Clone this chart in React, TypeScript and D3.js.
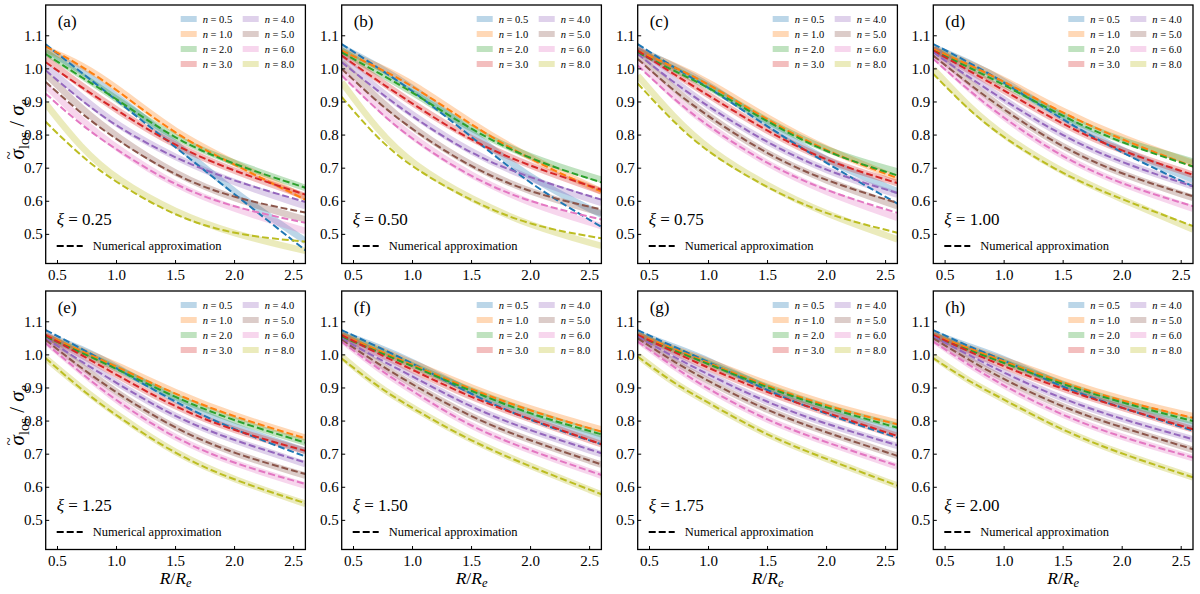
import React from 'react';
import * as d3 from 'd3';

// ---------- data ----------
const xGrid = [0.4, 0.7, 1.0, 1.5, 2.0, 2.6];
const nValues = ['0.5', '1.0', '2.0', '3.0', '4.0', '5.0', '6.0', '8.0'];
const seriesColors = ['#1f77b4', '#ff7f0e', '#2ca02c', '#d62728', '#9467bd', '#8c564b', '#e377c2', '#bcbd22'];
const panelLetters = ['a', 'b', 'c', 'd', 'e', 'f', 'g', 'h'];
const xiLabels = ['0.25', '0.50', '0.75', '1.00', '1.25', '1.50', '1.75', '2.00'];
const xTicks = [0.5, 1.0, 1.5, 2.0, 2.5];
const yTicks = [0.5, 0.6, 0.7, 0.8, 0.9, 1.0, 1.1];

// numerical approximation (dashed) per panel, series order = nValues
const approxA = [
  [1.074, 0.99, 0.905, 0.763, 0.621, 0.452],
  [1.068, 1.01, 0.938, 0.8, 0.71, 0.605],
  [1.045, 0.975, 0.91, 0.785, 0.71, 0.641],
  [1.02, 0.945, 0.875, 0.765, 0.69, 0.62],
  [0.995, 0.905, 0.825, 0.728, 0.66, 0.598],
  [0.96, 0.865, 0.785, 0.675, 0.608, 0.566],
  [0.925, 0.83, 0.755, 0.645, 0.58, 0.535],
  [0.84, 0.735, 0.655, 0.553, 0.498, 0.478],
];
const bandA = [
  [1.06, 0.995, 0.92, 0.775, 0.625, 0.48],
  [1.06, 1.015, 0.945, 0.805, 0.715, 0.61],
  [1.05, 0.98, 0.91, 0.785, 0.715, 0.64],
  [1.03, 0.95, 0.875, 0.765, 0.69, 0.615],
  [1.01, 0.915, 0.83, 0.73, 0.655, 0.585],
  [0.985, 0.88, 0.795, 0.68, 0.605, 0.545],
  [0.95, 0.845, 0.76, 0.645, 0.575, 0.51],
  [0.895, 0.76, 0.665, 0.565, 0.5, 0.45],
];
const approxB = [
  [1.075, 1.005, 0.935, 0.795, 0.649, 0.523],
  [1.055, 1.005, 0.95, 0.83, 0.724, 0.629],
  [1.05, 0.99, 0.93, 0.815, 0.725, 0.657],
  [1.04, 0.965, 0.895, 0.78, 0.705, 0.635],
  [1.02, 0.935, 0.855, 0.74, 0.67, 0.605],
  [1.0, 0.9, 0.815, 0.7, 0.625, 0.575],
  [0.98, 0.875, 0.785, 0.67, 0.595, 0.545],
  [0.915, 0.79, 0.7, 0.6, 0.525, 0.488],
];
const bandB = [
  [1.065, 1.01, 0.945, 0.81, 0.665, 0.56],
  [1.055, 1.01, 0.958, 0.835, 0.728, 0.63],
  [1.055, 0.99, 0.93, 0.815, 0.73, 0.665],
  [1.045, 0.97, 0.895, 0.785, 0.705, 0.63],
  [1.035, 0.94, 0.86, 0.745, 0.665, 0.595],
  [1.02, 0.91, 0.82, 0.705, 0.625, 0.565],
  [0.995, 0.885, 0.79, 0.675, 0.59, 0.525],
  [0.96, 0.815, 0.71, 0.605, 0.525, 0.465],
];
const approxC = [
  [1.075, 1.005, 0.945, 0.825, 0.714, 0.593],
  [1.055, 1.007, 0.955, 0.845, 0.75, 0.67],
  [1.05, 0.995, 0.945, 0.84, 0.745, 0.678],
  [1.055, 0.985, 0.92, 0.81, 0.72, 0.655],
  [1.045, 0.96, 0.885, 0.775, 0.69, 0.625],
  [1.03, 0.935, 0.855, 0.74, 0.66, 0.595],
  [1.01, 0.91, 0.825, 0.71, 0.63, 0.565],
  [0.956, 0.84, 0.745, 0.639, 0.558, 0.505],
];
const bandC = [
  [1.06, 1.01, 0.955, 0.83, 0.72, 0.63],
  [1.055, 1.012, 0.962, 0.85, 0.755, 0.67],
  [1.055, 1.0, 0.948, 0.84, 0.75, 0.69],
  [1.06, 0.99, 0.92, 0.81, 0.72, 0.655],
  [1.055, 0.965, 0.885, 0.775, 0.69, 0.62],
  [1.045, 0.94, 0.855, 0.74, 0.66, 0.585],
  [1.025, 0.915, 0.825, 0.71, 0.625, 0.55],
  [0.98, 0.855, 0.755, 0.645, 0.56, 0.485],
];
const approxD = [
  [1.075, 1.02, 0.96, 0.845, 0.745, 0.645],
  [1.06, 1.013, 0.962, 0.865, 0.785, 0.705],
  [1.055, 1.005, 0.952, 0.855, 0.775, 0.705],
  [1.055, 0.995, 0.935, 0.83, 0.75, 0.68],
  [1.05, 0.975, 0.905, 0.795, 0.715, 0.645],
  [1.04, 0.955, 0.875, 0.76, 0.68, 0.615],
  [1.03, 0.935, 0.85, 0.73, 0.65, 0.585],
  [0.985, 0.875, 0.79, 0.68, 0.605, 0.525],
];
const bandD = [
  [1.065, 1.02, 0.965, 0.85, 0.75, 0.665],
  [1.06, 1.018, 0.968, 0.87, 0.79, 0.715],
  [1.06, 1.005, 0.955, 0.855, 0.78, 0.72],
  [1.06, 0.995, 0.935, 0.83, 0.75, 0.68],
  [1.06, 0.98, 0.905, 0.795, 0.715, 0.645],
  [1.05, 0.96, 0.875, 0.76, 0.68, 0.61],
  [1.04, 0.94, 0.85, 0.73, 0.65, 0.578],
  [1.0, 0.885, 0.795, 0.685, 0.605, 0.515],
];
const approxE = [
  [1.075, 1.02, 0.96, 0.855, 0.773, 0.693],
  [1.06, 1.012, 0.965, 0.88, 0.812, 0.748],
  [1.055, 1.007, 0.958, 0.87, 0.8, 0.735],
  [1.06, 1.0, 0.94, 0.84, 0.77, 0.71],
  [1.05, 0.98, 0.915, 0.81, 0.74, 0.675],
  [1.045, 0.96, 0.885, 0.775, 0.7, 0.64],
  [1.035, 0.945, 0.86, 0.745, 0.67, 0.61],
  [0.99, 0.895, 0.816, 0.698, 0.62, 0.552],
];
const bandE = [
  [1.06, 1.02, 0.965, 0.86, 0.78, 0.71],
  [1.055, 1.015, 0.97, 0.885, 0.815, 0.75],
  [1.055, 1.01, 0.96, 0.87, 0.8, 0.735],
  [1.06, 1.0, 0.94, 0.84, 0.77, 0.71],
  [1.055, 0.985, 0.915, 0.81, 0.74, 0.67],
  [1.05, 0.965, 0.885, 0.775, 0.7, 0.635],
  [1.04, 0.95, 0.86, 0.745, 0.67, 0.605],
  [0.99, 0.9, 0.82, 0.7, 0.622, 0.55],
];
const approxF = [
  [1.075, 1.025, 0.975, 0.88, 0.8, 0.73],
  [1.06, 1.015, 0.97, 0.895, 0.83, 0.768],
  [1.055, 1.01, 0.966, 0.89, 0.82, 0.76],
  [1.06, 1.005, 0.955, 0.87, 0.805, 0.73],
  [1.05, 0.99, 0.935, 0.84, 0.77, 0.703],
  [1.045, 0.975, 0.91, 0.81, 0.74, 0.669],
  [1.04, 0.96, 0.89, 0.78, 0.71, 0.637],
  [0.989, 0.905, 0.838, 0.738, 0.662, 0.579],
];
const bandF = [
  [1.065, 1.025, 0.98, 0.885, 0.81, 0.745],
  [1.06, 1.02, 0.975, 0.9, 0.835, 0.775],
  [1.06, 1.015, 0.968, 0.89, 0.825, 0.76],
  [1.06, 1.005, 0.955, 0.87, 0.805, 0.73],
  [1.055, 0.995, 0.935, 0.84, 0.77, 0.7],
  [1.05, 0.975, 0.91, 0.81, 0.74, 0.668],
  [1.045, 0.96, 0.89, 0.78, 0.71, 0.635],
  [0.995, 0.905, 0.84, 0.74, 0.663, 0.578],
];
const approxG = [
  [1.075, 1.025, 0.98, 0.89, 0.82, 0.75],
  [1.06, 1.02, 0.975, 0.905, 0.845, 0.79],
  [1.055, 1.015, 0.972, 0.9, 0.84, 0.78],
  [1.06, 1.01, 0.96, 0.885, 0.825, 0.755],
  [1.055, 0.995, 0.94, 0.855, 0.79, 0.727],
  [1.05, 0.98, 0.92, 0.83, 0.765, 0.695],
  [1.04, 0.965, 0.895, 0.8, 0.735, 0.665],
  [0.995, 0.915, 0.855, 0.755, 0.685, 0.605],
];
const bandG = [
  [1.065, 1.025, 0.985, 0.895, 0.83, 0.765],
  [1.06, 1.02, 0.98, 0.91, 0.85, 0.795],
  [1.06, 1.015, 0.975, 0.9, 0.84, 0.785],
  [1.06, 1.01, 0.96, 0.885, 0.825, 0.755],
  [1.055, 0.995, 0.94, 0.855, 0.79, 0.725],
  [1.05, 0.98, 0.92, 0.83, 0.765, 0.695],
  [1.045, 0.965, 0.895, 0.8, 0.735, 0.662],
  [0.998, 0.915, 0.855, 0.755, 0.685, 0.605],
];
const approxH = [
  [1.075, 1.025, 0.985, 0.9, 0.84, 0.771],
  [1.06, 1.02, 0.98, 0.915, 0.86, 0.81],
  [1.055, 1.015, 0.975, 0.91, 0.855, 0.8],
  [1.06, 1.01, 0.965, 0.895, 0.84, 0.775],
  [1.055, 1.0, 0.945, 0.865, 0.805, 0.745],
  [1.05, 0.985, 0.925, 0.84, 0.78, 0.715],
  [1.04, 0.97, 0.905, 0.815, 0.75, 0.69],
  [0.99, 0.92, 0.865, 0.77, 0.7, 0.63],
];
const bandH = [
  [1.065, 1.025, 0.99, 0.905, 0.845, 0.785],
  [1.06, 1.02, 0.985, 0.92, 0.865, 0.815],
  [1.06, 1.015, 0.978, 0.91, 0.855, 0.8],
  [1.06, 1.01, 0.965, 0.895, 0.84, 0.775],
  [1.055, 1.0, 0.945, 0.865, 0.805, 0.745],
  [1.05, 0.985, 0.925, 0.84, 0.78, 0.713],
  [1.045, 0.97, 0.905, 0.815, 0.75, 0.688],
  [0.995, 0.92, 0.865, 0.77, 0.7, 0.63],
];

const approxPanels = [approxA, approxB, approxC, approxD, approxE, approxF, approxG, approxH];
const bandPanels = [bandA, bandB, bandC, bandD, bandE, bandF, bandG, bandH];

// ---------- layout ----------
const WIDTH = 1200;
const HEIGHT = 594;
const colLefts = [45.7, 341.7, 637.7, 933.3];
const rowTops = [5, 291];
const PW = 259.7;
const PH = 258.5;
const FONT = "'Liberation Serif', 'Times New Roman', 'DejaVu Serif', serif";

const xScale = d3.scaleLinear().domain([0.4, 2.6]).range([0, PW]);
const yScale = d3.scaleLinear().domain([0.412, 1.193]).range([PH, 0]);
const lineGen = d3
  .line<number>()
  .x((_, i) => xScale(xGrid[i]))
  .y((d) => yScale(d))
  .curve(d3.curveBasis);

function Panel({ idx }: { idx: number }) {
  const col = idx % 4;
  const row = Math.floor(idx / 4);
  const L = colLefts[col];
  const T = rowTops[row];
  const clipId = `clip-${idx}`;
  const approx = approxPanels[idx];
  const band = bandPanels[idx];
  return (
    <g transform={`translate(${L},${T})`}>
      <defs>
        <clipPath id={clipId}>
          <rect x={0} y={0} width={PW} height={PH} />
        </clipPath>
      </defs>
      <g clipPath={`url(#${clipId})`}>
        {band.map((s, i) => (
          <path key={`b${i}`} d={lineGen(s) || ''} fill="none" stroke={seriesColors[i]} strokeOpacity={0.3} strokeWidth={6.5} />
        ))}
        {approx.map((s, i) => (
          <path key={`a${i}`} d={lineGen(s) || ''} fill="none" stroke={seriesColors[i]} strokeWidth={2} strokeDasharray="7 3" />
        ))}
      </g>
      {xTicks.map((t) => (
        <g key={`xt${t}`}>
          <line x1={xScale(t)} x2={xScale(t)} y1={PH} y2={PH - 3.5} stroke="#000" strokeWidth={1} />
          <text x={xScale(t)} y={PH + 16} textAnchor="middle" fontFamily={FONT} fontSize={15}>
            {t.toFixed(1)}
          </text>
        </g>
      ))}
      {yTicks.map((t) => (
        <g key={`yt${t}`}>
          <line x1={0} x2={3.5} y1={yScale(t)} y2={yScale(t)} stroke="#000" strokeWidth={1} />
          <text x={-3} y={yScale(t)} textAnchor="end" dominantBaseline="central" fontFamily={FONT} fontSize={15}>
            {t.toFixed(1)}
          </text>
        </g>
      ))}
      <rect x={0} y={0} width={PW} height={PH} fill="none" stroke="#000" strokeWidth={1.3} />
      <text x={12} y={22} fontFamily={FONT} fontSize={17}>
        ({panelLetters[idx]})
      </text>
      <text x={11} y={220} fontFamily={FONT} fontSize={17}>
        <tspan fontStyle="italic">ξ</tspan>
        <tspan>{' = ' + xiLabels[idx]}</tspan>
      </text>
      <line x1={11} x2={37} y1={241} y2={241} stroke="#000" strokeWidth={2} strokeDasharray="7 3" />
      <text x={47} y={245} fontFamily={FONT} fontSize={12.5}>
        Numerical approximation
      </text>
      {nValues.map((n, i) => {
        const c = Math.floor(i / 4);
        const r = i % 4;
        const px = 135 + c * 62;
        const py = 14 + r * 15;
        return (
          <g key={`lg${i}`}>
            <rect x={px} y={py - 3} width={16} height={6} fill={seriesColors[i]} fillOpacity={0.3} />
            <text x={px + 22} y={py} dominantBaseline="central" fontFamily={FONT} fontSize={10.5}>
              <tspan fontStyle="italic">n</tspan>
              <tspan>{' = ' + n}</tspan>
            </text>
          </g>
        );
      })}
    </g>
  );
}

function YLabel({ top }: { top: number }) {
  return (
    <text transform={`translate(24,${top + PH / 2 - 5}) rotate(-90)`} textAnchor="middle" fontFamily={FONT} fontSize={21}>
      <tspan fontStyle="italic">σ</tspan>
      <tspan fontSize={15} dx={-10.5} dy={-10}>~</tspan>
      <tspan fontSize={14.5} dx={2.4} dy={14.5}>los</tspan>
      <tspan dy={-4.5}>{' / '}</tspan>
      <tspan fontStyle="italic">σ</tspan>
      <tspan fontSize={14.5} dy={4.5} fontStyle="italic">e</tspan>
    </text>
  );
}

function XLabel({ left }: { left: number }) {
  return (
    <text x={left + PW / 2} y={584} textAnchor="middle" fontFamily={FONT} fontSize={17.5} fontStyle="italic">
      <tspan>R</tspan>
      <tspan fontStyle="normal">/</tspan>
      <tspan>R</tspan>
      <tspan fontSize={12.5} dy={3}>e</tspan>
    </text>
  );
}

export default function App() {
  return (
    <svg
      width={WIDTH}
      height={HEIGHT}
      viewBox={`0 0 ${WIDTH} ${HEIGHT}`}
      style={{ position: 'absolute', left: 0, top: 0, background: '#fff' }}
    >
      <rect x={0} y={0} width={WIDTH} height={HEIGHT} fill="#fff" />
      {panelLetters.map((_, i) => (
        <Panel key={i} idx={i} />
      ))}
      {rowTops.map((t) => (
        <YLabel key={`yl${t}`} top={t} />
      ))}
      {colLefts.map((l) => (
        <XLabel key={`xl${l}`} left={l} />
      ))}
    </svg>
  );
}
